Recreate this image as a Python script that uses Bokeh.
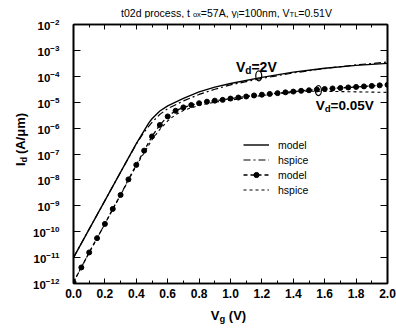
import math
from bokeh.plotting import figure
from bokeh.layouts import column, row
from bokeh.models import (LinearAxis, FixedTicker, Label, Legend, LegendItem,
                          PrintfTickFormatter, ColumnDataSource, CustomJSTickFormatter)
from bokeh.embed import file_html
from bokeh.resources import INLINE

# ---------------- data (log10 of Id in A/um) ----------------
vg_model_2v = [0.0, 0.1, 0.2, 0.3, 0.4, 0.45, 0.48, 0.5, 0.55, 0.6, 0.7, 0.8, 0.9, 1.0,
               1.2, 1.4, 1.6, 1.8, 2.0]
log_id_model_2v = [-11.0, -9.9, -8.8, -7.7, -6.6, -6.1, -5.8, -5.64, -5.34, -5.14, -4.85,
                   -4.6, -4.42, -4.28, -4.04, -3.84, -3.69, -3.58, -3.5]

vg_hspice_2v = [0.0, 0.1, 0.2, 0.3, 0.4, 0.45, 0.5, 0.55, 0.6, 0.7, 0.8, 0.9, 1.0,
                1.2, 1.4, 1.6, 1.8, 2.0]
log_id_hspice_2v = [-11.0, -9.9, -8.8, -7.7, -6.62, -6.15, -5.78, -5.47, -5.25, -4.95,
                    -4.7, -4.5, -4.33, -4.08, -3.87, -3.7, -3.56, -3.45]

vg_model_005v = [0.0, 0.05, 0.1, 0.15, 0.2, 0.25, 0.3, 0.35, 0.4, 0.45, 0.5, 0.55, 0.6,
                 0.65, 0.7, 0.75, 0.8, 0.85, 0.9, 0.95, 1.0, 1.05, 1.1, 1.15, 1.2, 1.25,
                 1.3, 1.35, 1.4, 1.45, 1.5, 1.55, 1.6, 1.65, 1.7, 1.75, 1.8, 1.85, 1.9,
                 1.95, 2.0]
log_id_model_005v = [-11.95, -11.38, -10.8, -10.25, -9.7, -9.12, -8.58, -7.98, -7.42,
                     -6.87, -6.32, -5.88, -5.55, -5.33, -5.2, -5.11, -5.04, -4.98, -4.94,
                     -4.91, -4.86, -4.82, -4.78, -4.74, -4.71, -4.68, -4.65, -4.62, -4.59,
                     -4.56, -4.54, -4.51, -4.49, -4.47, -4.45, -4.43, -4.41, -4.39, -4.37,
                     -4.35, -4.33]

vg_hspice_005v = [0.0, 0.1, 0.2, 0.3, 0.4, 0.5, 0.55, 0.6, 0.65, 0.7, 0.8, 0.9, 1.0,
                  1.2, 1.4, 1.5, 1.6, 1.8, 2.0]
log_id_hspice_005v = [-11.95, -10.8, -9.7, -8.58, -7.45, -6.45, -6.05, -5.72, -5.48,
                      -5.32, -5.12, -5.0, -4.92, -4.74, -4.62, -4.58, -4.58, -4.6, -4.62]

x_ticks = [0.0, 0.2, 0.4, 0.6, 0.8, 1.0, 1.2, 1.4, 1.6, 1.8, 2.0]
x_minor_ticks = [0.1, 0.3, 0.5, 0.7, 0.9, 1.1, 1.3, 1.5, 1.7, 1.9]
y_tick_exponents = [-12, -11, -10, -9, -8, -7, -6, -5, -4, -3, -2]

legend_labels = ["model", "hspice", "model", "hspice"]

# curve marker annotations (Vg, log10 Id)
marker_vg = [1.18, 1.56]
marker_log = [-3.98, -4.55]

# ---------------- layout constants (page pixels) ----------------
W, H = 396, 329
TITLE_H = 18          # title strip height
YLAB_W = 30           # y-label strip width
XLAB_H = 27           # x-label strip height
FL, FR, FT, FB = 72, 9, 24, 46   # frame edges inside the page
MAIN_W = W - YLAB_W
MAIN_H = H - TITLE_H - XLAB_H
FW = W - FL - FR
FH = H - FT - FB
X0, X1 = 0.0, 2.0
E_TOP, E_BOT = -2, -12
FONT = "Liberation Sans"

REG = {' ': 278, 't': 278, 'd': 556, 'p': 556, 'r': 333, 'o': 556, 'c': 500, 'e': 556,
       's': 500, ',': 278, 'x': 500, '=': 584, 'A': 667, 'y': 500, 'j': 222, 'n': 556,
       'm': 833, 'V': 667, 'T': 611, 'L': 556, '.': 278}
BOLD = {' ': 278, 'V': 667, 'd': 611, '=': 584, '.': 278, 'g': 611, '(': 333, ')': 333,
        'I': 278, 'A': 722, '/': 278, 'μ': 611, 'm': 889}

def tw(s, size, bold):
    tbl = BOLD if bold else REG
    return sum(tbl.get(ch, 556) for ch in s) * size / 1000.0

def rich(fig, mapx, mapy, pieces, px, py, size, bold, align="left", angle=0.0, sub_off=0.25):
    """Lay out text pieces (text, is_subscript) starting at page pixel px/py (baseline)."""
    total = sum(tw(t, size * (0.72 if s else 1.0), bold) for t, s in pieces)
    if angle:
        cur = py + total / 2 if align == "center" else py
    else:
        cur = px - total / 2 if align == "center" else px
    for t, s in pieces:
        sz = size * 0.72 if s else size
        off = sub_off * size if s else 0.0
        lead = len(t) - len(t.lstrip(" "))
        adv = tw(" " * lead, sz, bold)
        t = t.lstrip(" ")
        w = tw(t, sz, bold)
        if angle:
            cur -= adv
            lab = Label(x=mapx(px + off), y=mapy(cur), text=t, angle=angle,
                        text_align="left", text_baseline="alphabetic")
            cur -= w
        else:
            cur += adv
            lab = Label(x=mapx(cur), y=mapy(py + off), text=t,
                        text_align="left", text_baseline="alphabetic")
            cur += w
        lab.text_font = FONT
        lab.text_font_size = f"{sz:.1f}px"
        lab.text_font_style = "bold" if bold else "normal"
        lab.text_color = "black"
        fig.add_layout(lab)

def strip(w, h):
    f = figure(width=w, height=h, output_backend="svg", toolbar_location=None,
               title=None, x_range=(0, w), y_range=(0, h),
               x_axis_location=None, y_axis_location=None,
               min_border_left=0, min_border_right=0, min_border_top=0,
               min_border_bottom=0)
    f.grid.visible = False
    f.outline_line_color = None
    f.background_fill_color = "white"
    f.border_fill_color = "white"
    return f

# ---------------- main figure ----------------
p = figure(width=MAIN_W, height=MAIN_H, output_backend="svg", toolbar_location=None,
           title=None, y_axis_type="log", x_range=(X0, X1),
           y_range=(10 ** E_BOT, 10 ** E_TOP),
           min_border_left=FL - YLAB_W, min_border_right=FR,
           min_border_top=FT - TITLE_H,
           min_border_bottom=(TITLE_H + MAIN_H) - (FT + FH))
p.background_fill_color = "white"
p.border_fill_color = "white"
p.grid.visible = False
p.outline_line_color = "black"
p.outline_line_width = 1.6

def px2x(px):
    return X0 + (px - FL) / FW * (X1 - X0)

def py2y(py):
    return 10 ** (E_TOP - (py - FT) / FH * (E_TOP - E_BOT))

r_m2 = p.line(vg_model_2v, [10 ** v for v in log_id_model_2v], line_color="black",
              line_width=1.4)
r_h2 = p.line(vg_hspice_2v, [10 ** v for v in log_id_hspice_2v], line_color="black",
              line_width=1.2, line_dash="7 3 2 3")
src_m005 = ColumnDataSource(dict(x=vg_model_005v, y=[10 ** v for v in log_id_model_005v]))
r_m005 = p.line("x", "y", source=src_m005, line_color="black", line_width=1.3,
                line_dash="4 3")
r_m005d = p.scatter("x", "y", source=src_m005, size=5, marker="circle",
                    fill_color="black", line_color="black")
r_h005 = p.line(vg_hspice_005v, [10 ** v for v in log_id_hspice_005v], line_color="black",
                line_width=1.1, line_dash="3 3")

p.ellipse(x=marker_vg, y=[10 ** v for v in marker_log], width=6, height=10,
          width_units="screen", height_units="screen", fill_color=None,
          line_color="black", line_width=1.2)

blank = CustomJSTickFormatter(code="return ''")

ax = p.xaxis[0]
ax.ticker = FixedTicker(ticks=x_ticks, minor_ticks=x_minor_ticks)
ax.formatter = PrintfTickFormatter(format="%.1f")
ay = p.yaxis[0]
ay.ticker = FixedTicker(ticks=[10.0 ** e for e in y_tick_exponents], minor_ticks=[])

for a in (ax, ay):
    a.axis_line_width = 1.6
    a.major_tick_out = 0
    a.minor_tick_out = 0
    a.major_label_text_font = FONT
    a.major_label_text_font_style = "bold"
    a.major_label_text_color = "black"
ax.major_label_text_font_size = "12px"
ay.major_label_text_font_size = "11.5px"
ax.major_tick_in = 5
ax.minor_tick_in = 3
ax.major_label_standoff = 5
ay.major_tick_in = 7
ay.major_label_standoff = 14
ay.minor_tick_line_color = None

top = LinearAxis(ticker=FixedTicker(ticks=x_ticks, minor_ticks=x_minor_ticks),
                 formatter=blank, major_label_standoff=0, major_label_text_font_size="1px",
                 major_tick_in=5, major_tick_out=0, minor_tick_in=3, minor_tick_out=0,
                 axis_line_width=1.6)
p.add_layout(top, "above")
right = LinearAxis(ticker=FixedTicker(ticks=[10.0 ** e for e in y_tick_exponents], minor_ticks=[]),
                   formatter=blank, major_label_standoff=0, major_label_text_font_size="1px",
                   major_tick_in=7, major_tick_out=0, minor_tick_line_color=None,
                   axis_line_width=1.6)
p.add_layout(right, "right")

legend = Legend(items=[LegendItem(label=legend_labels[0], renderers=[r_m2]),
                       LegendItem(label=legend_labels[1], renderers=[r_h2]),
                       LegendItem(label=legend_labels[2], renderers=[r_m005, r_m005d]),
                       LegendItem(label=legend_labels[3], renderers=[r_h005])],
                location=(170, 87), glyph_width=26, glyph_height=13, label_height=13,
                spacing=2, padding=0, margin=0, label_standoff=9,
                border_line_color=None, background_fill_alpha=0,
                label_text_font=FONT, label_text_font_size="10.5px",
                label_text_color="black")
p.add_layout(legend)

rich(p, px2x, py2y, [("V", False), ("d", True), ("=2V", False)], 235, 66, 14, True)
rich(p, px2x, py2y, [("V", False), ("d", True), ("=0.05V", False)], 315, 105, 13.5, True)

# ---------------- title strip ----------------
t_fig = strip(W, TITLE_H)
rich(t_fig, lambda px: px, lambda py: TITLE_H - py,
     [("t02d process,  t", False), ("ox", True), ("=57A, y", False), ("j", True),
      ("=100nm, V", False), ("TL", True), ("=0.51V", False)],
     226, 12, 10.5, False, align="center", sub_off=0.15)

# ---------------- y-label strip ----------------
y_fig = strip(YLAB_W, MAIN_H)
rich(y_fig, lambda px: px, lambda py: MAIN_H - (py - TITLE_H),
     [("I", False), ("d", True), (" (A/μm)", False)], 20, 146, 13, True,
     align="center", angle=math.pi / 2, sub_off=0.22)

# ---------------- x-label strip ----------------
x_fig = strip(W, XLAB_H)
XLAB_TOP = TITLE_H + MAIN_H
rich(x_fig, lambda px: px, lambda py: XLAB_H - (py - XLAB_TOP),
     [("V", False), ("g", True), (" (V)", False)], 228, 315, 13, True, align="center",
     sub_off=0.22)

layout = column(t_fig, row(y_fig, p, spacing=0), x_fig, spacing=0)
open("out.html", "w").write(file_html(layout, INLINE))
